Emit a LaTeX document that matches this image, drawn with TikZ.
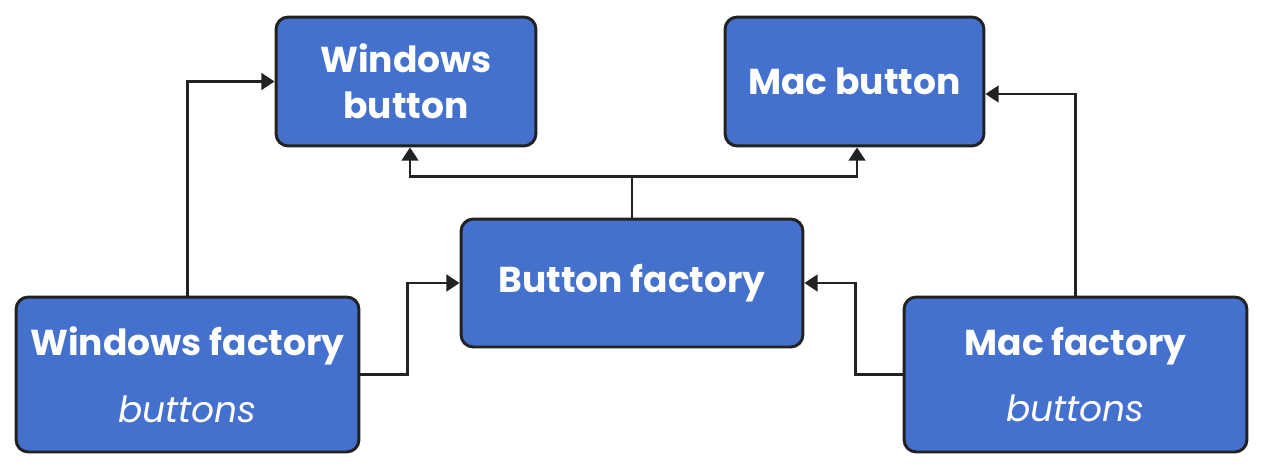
\documentclass[tikz,border=0pt]{standalone}
\usepackage{fontspec}
\setmainfont{Poppins}
\usetikzlibrary{arrows.meta}
\definecolor{boxblue}{RGB}{68,112,206}
\definecolor{edgegray}{RGB}{34,34,34}
\tikzset{
	box/.style={rectangle,draw=edgegray,fill=boxblue,line width=1.7pt,rounded corners=7pt,text=white,align=center,font=\fontsize{20.5}{26}\selectfont\bfseries,inner sep=0pt},
	directed/.style={draw=edgegray,line width=1.4pt,arrows={-Triangle[length=7.5pt,width=9.5pt]}}
	}

\begin{document}
\begin{tikzpicture}[x=0.02cm,y=-0.02cm]
		\useasboundingbox (0,0) rectangle (1264,474);
		\node[box,minimum width=5.2cm,minimum height=2.58cm] (wb) at (406,81.5) {Windows\\button};
		\node[box,minimum width=5.18cm,minimum height=2.58cm] (mb) at (854.5,81.5) {Mac button};
		\node[box,minimum width=6.84cm,minimum height=2.56cm] (bf) at (632,283) {Button factory};
		\node[box,minimum width=6.86cm,minimum height=3.1cm] (wf) at (187.5,374.5) {Windows factory\\[12pt]{\normalfont\itshape buttons}};
		\node[box,minimum width=6.86cm,minimum height=3.1cm] (mf) at (1075.5,374.5) {Mac factory\\[12pt]{\normalfont\itshape buttons}};

		\draw[directed] (wf.north) |- (wb.west);
		\draw[directed] (wf.east) -- ++(47,0) |- (bf.west);
		\draw[directed] (bf.north) -- ++(0,-41) -| ([xshift=0.08cm]wb.south);
		\draw[directed] (bf.north) ++(0,-41) -| ([xshift=0.05cm]mb.south);
		\draw[directed] (mf.north) |- ([yshift=-0.25cm]mb.east);
		\draw[directed] (mf.west) -- ++(-47,0) |- (bf.east);
	\end{tikzpicture}
\end{document}
